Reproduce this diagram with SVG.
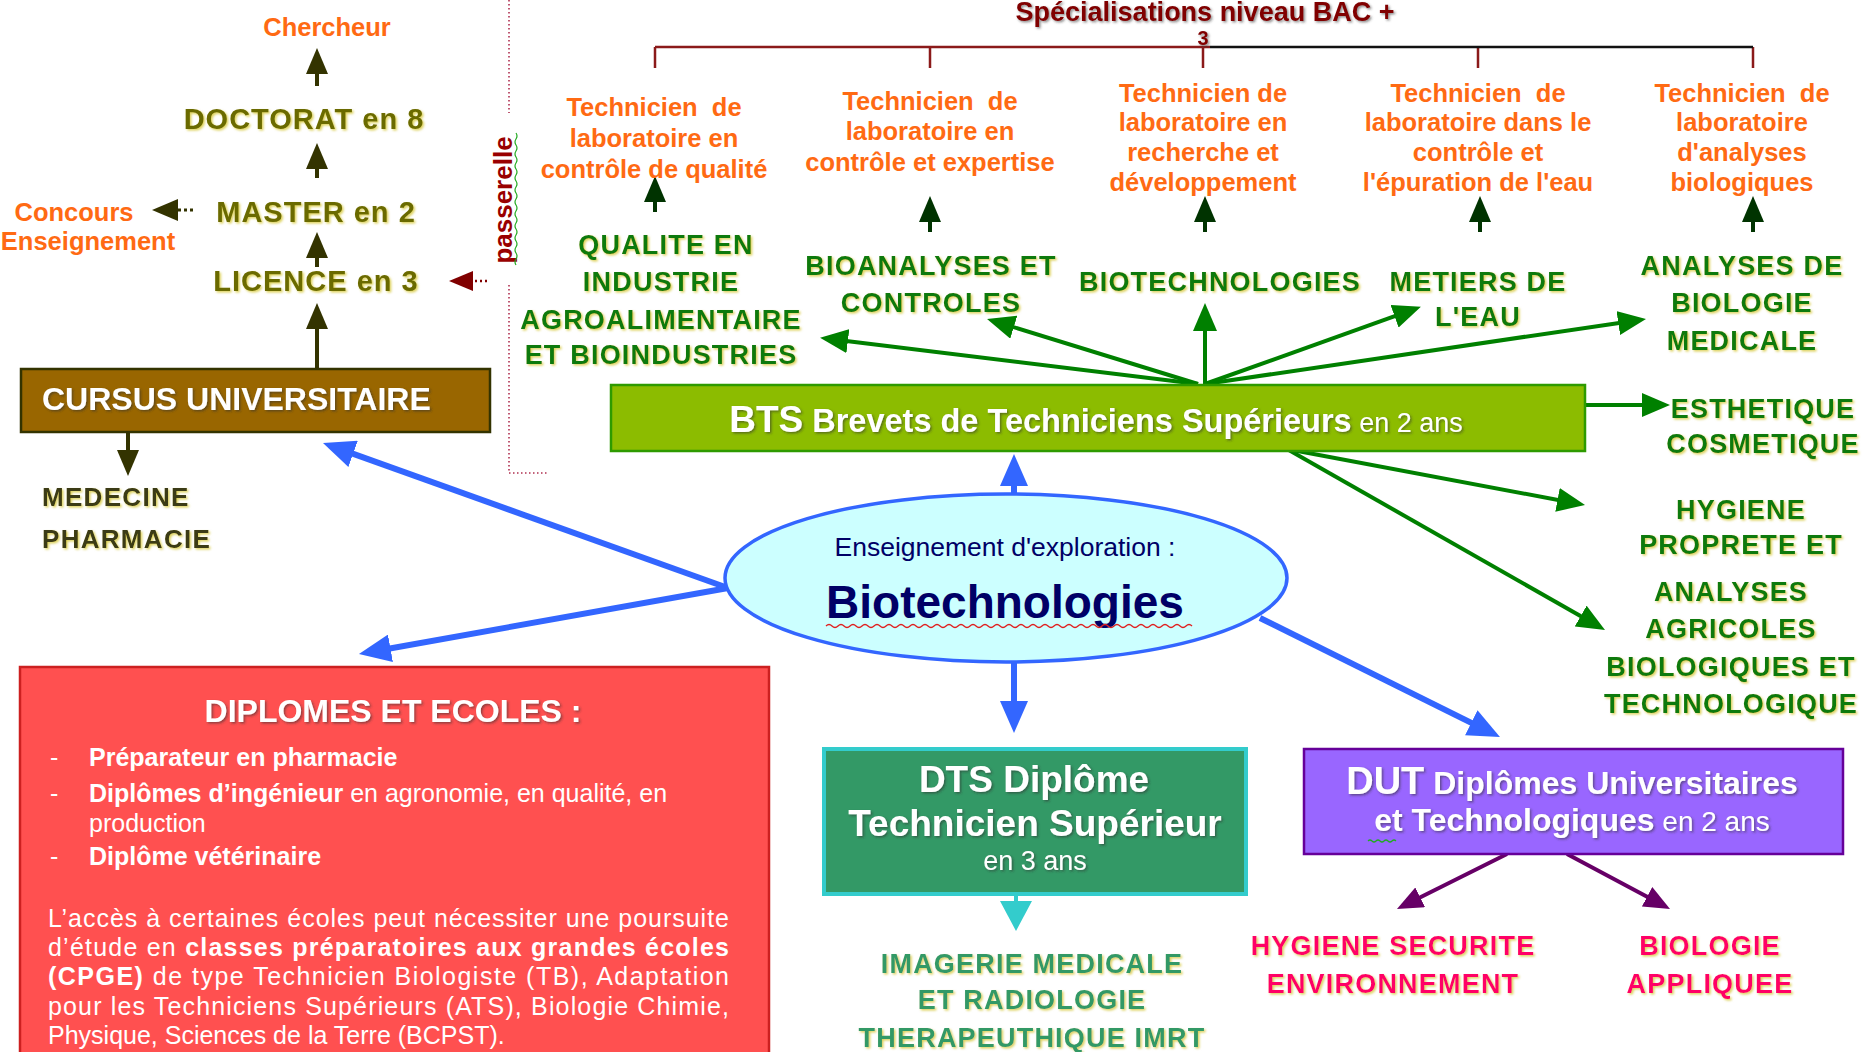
<svg xmlns="http://www.w3.org/2000/svg" width="1864" height="1052" viewBox="0 0 1864 1052">
<style>
text{font-family:"Liberation Sans",Arial,sans-serif}
.org{font-weight:bold;font-size:25.5px;fill:#FF6A13;text-anchor:middle}
.grn{font-weight:bold;font-size:27px;letter-spacing:1.2px;fill:#0A7A0A;text-anchor:middle}
.lmd{font-weight:bold;font-size:29px;letter-spacing:1px;fill:#6B6B00;text-anchor:middle}
.med{font-weight:bold;font-size:26px;letter-spacing:1.3px;fill:#3A3A12}
.img{font-weight:bold;font-size:27px;letter-spacing:1.2px;fill:#339966;text-anchor:middle}
.pnk{font-weight:bold;font-size:27px;letter-spacing:1.2px;fill:#FF0066;text-anchor:middle}
.wht{fill:#FFFFFF}
.dip{font-size:25px;fill:#FFFFFF}
.b{font-weight:bold}
.cb{fill:none;stroke-linecap:butt}
</style>
<defs>
<filter id="shY" x="-5%" y="-20%" width="110%" height="140%">
<feDropShadow dx="1.5" dy="1.5" stdDeviation="0.9" flood-color="#C9B800" flood-opacity="0.65"/>
</filter>
<filter id="shD" x="-5%" y="-20%" width="110%" height="140%">
<feDropShadow dx="1.5" dy="1.5" stdDeviation="1" flood-color="#333333" flood-opacity="0.55"/>
</filter>
<marker id="mOlive" viewBox="0 0 26 22" refX="16" refY="11" markerWidth="26" markerHeight="22" markerUnits="userSpaceOnUse" orient="auto"><path d="M0,0 L26,11 L0,22 z" fill="#333300"/></marker>
<marker id="mDk" viewBox="0 0 26 22" refX="16" refY="11" markerWidth="26" markerHeight="22" markerUnits="userSpaceOnUse" orient="auto"><path d="M0,0 L26,11 L0,22 z" fill="#003300"/></marker>
<marker id="mGreen" viewBox="0 0 28 24" refX="18" refY="12" markerWidth="28" markerHeight="24" markerUnits="userSpaceOnUse" orient="auto"><path d="M0,0 L28,12 L0,24 z" fill="#008000"/></marker>
<marker id="mBlue" viewBox="0 0 32 28" refX="22" refY="14" markerWidth="32" markerHeight="28" markerUnits="userSpaceOnUse" orient="auto"><path d="M0,0 L32,14 L0,28 z" fill="#3366FF"/></marker>
<marker id="mCyan" viewBox="0 0 30 32" refX="20" refY="16" markerWidth="30" markerHeight="32" markerUnits="userSpaceOnUse" orient="auto"><path d="M0,0 L30,16 L0,32 z" fill="#33CCCC"/></marker>
<marker id="mPurple" viewBox="0 0 26 22" refX="16" refY="11" markerWidth="26" markerHeight="22" markerUnits="userSpaceOnUse" orient="auto"><path d="M0,0 L26,11 L0,22 z" fill="#660066"/></marker>
<marker id="mRed" viewBox="0 0 24 20" refX="14" refY="10" markerWidth="24" markerHeight="20" markerUnits="userSpaceOnUse" orient="auto"><path d="M0,0 L24,10 L0,20 z" fill="#800000"/></marker>
</defs>

<rect width="1864" height="1052" fill="#FFFFFF"/>

<!-- connectors -->
<g id="connectors" class="cb">
  <!-- specialisation bracket -->
  <path d="M655,47 H1210 M655,47 V68 M930,47 V68 M1203,47 V68 M1478,47 V68 M1753,47 V68" stroke="#8B1A1A" stroke-width="2.5"/>
  <path d="M1210,47 H1753" stroke="#111111" stroke-width="2.5"/>
  <!-- passerelle dotted frame -->
  <path d="M509,0 V113 M509,285 V473 H547" stroke="#B03050" stroke-width="1.6" stroke-dasharray="1.5,2.5"/>
  <!-- LMD arrows -->
  <g stroke="#333300" stroke-width="4" marker-end="url(#mOlive)">
    <path d="M317,86 V58"/>
    <path d="M317,178 V153"/>
    <path d="M317,267 V242"/>
    <path d="M317,369 V313"/>
    <path d="M128,432 V466"/>
  </g>
  <path d="M193,210 H162" stroke="#333300" stroke-width="3" stroke-dasharray="3,3" marker-end="url(#mOlive)"/>
  <path d="M487,281 H459" stroke="#800000" stroke-width="2.5" stroke-dasharray="2,3" marker-end="url(#mRed)"/>
  <!-- spec arrows -->
  <g stroke="#003300" stroke-width="4" marker-end="url(#mDk)">
    <path d="M655,212 V186"/>
    <path d="M930,232 V206"/>
    <path d="M1205,232 V206"/>
    <path d="M1480,232 V206"/>
    <path d="M1753,232 V206"/>
  </g>
  <!-- BTS arrows -->
  <g stroke="#008000" stroke-width="4" marker-end="url(#mGreen)">
    <path d="M1198,384 L830,339"/>
    <path d="M1198,384 L996.6,321.9"/>
    <path d="M1205,384 L1205,313"/>
    <path d="M1205,384 L1411.5,310.2"/>
    <path d="M1205,384 L1636.1,320.4"/>
    <path d="M1585,405 L1660,405"/>
    <path d="M1287,449 L1575.2,503.2"/>
    <path d="M1287,449 L1596.3,625"/>
  </g>
  <!-- blue arrows from ellipse -->
  <g stroke="#3366FF" stroke-width="6" marker-end="url(#mBlue)">
    <path d="M1014,495 V464"/>
    <path d="M1014,661 V723"/>
    <path d="M728,588 L332.4,446.4"/>
    <path d="M728,588 L368.8,652.2"/>
    <path d="M1260,618 L1491,732.6"/>
  </g>
  <!-- DTS arrow -->
  <path d="M1016,894 V921" stroke="#33CCCC" stroke-width="4" marker-end="url(#mCyan)"/>
  <!-- DUT arrows -->
  <g stroke="#660066" stroke-width="4" marker-end="url(#mPurple)">
    <path d="M1507,854 L1405.9,904.5"/>
    <path d="M1567,854 L1661.2,904.3"/>
  </g>
</g>

<!-- title -->
<g id="title" filter="url(#shD)">
  <text x="1205" y="21" text-anchor="middle" font-size="27" font-weight="bold" fill="#800000">Spécialisations niveau BAC +</text>
  <text x="1203" y="45" text-anchor="middle" font-size="20" font-weight="bold" fill="#800000">3</text>
</g>

<!-- LMD column -->
<g id="chercheur"><text class="org" x="327" y="36">Chercheur</text></g>
<g id="doctorat" filter="url(#shY)"><text class="lmd" x="304" y="129">DOCTORAT en 8</text></g>
<g id="master" filter="url(#shY)"><text class="lmd" x="316" y="222">MASTER en 2</text></g>
<g id="licence" filter="url(#shY)"><text class="lmd" x="316" y="291">LICENCE en 3</text></g>
<g id="concours">
  <text class="org" x="74" y="221">Concours</text>
  <text class="org" x="88" y="250">Enseignement</text>
</g>
<g id="passerelle">
  <text transform="translate(512,200) rotate(-90)" text-anchor="middle" font-size="26" font-weight="bold" fill="#990000">passerelle</text>
  <path d="M516,133 q2,3 0,6 q-2,3 0,6 q2,3 0,6 q-2,3 0,6 q2,3 0,6 q-2,3 0,6 q2,3 0,6 q-2,3 0,6 q2,3 0,6 q-2,3 0,6 q2,3 0,6 q-2,3 0,6 q2,3 0,6 q-2,3 0,6 q2,3 0,6 q-2,3 0,6 q2,3 0,6 q-2,3 0,6 q2,3 0,6 q-2,3 0,6 q2,3 0,6 q-2,3 0,6" fill="none" stroke="#22AA22" stroke-width="1.2"/>
</g>

<!-- CURSUS -->
<g id="cursus">
  <rect x="21" y="369" width="469" height="63" fill="#996600" stroke="#333300" stroke-width="2.5"/>
  <text x="42" y="410" font-size="32" font-weight="bold" class="wht" filter="url(#shD)">CURSUS UNIVERSITAIRE</text>
</g>
<g id="medecine" filter="url(#shY)">
  <text class="med" x="42" y="506">MEDECINE</text>
  <text class="med" x="42" y="548">PHARMACIE</text>
</g>

<!-- specialisation job titles -->
<g id="spec1">
  <text class="org" x="654" y="116">Technicien&#160; de</text>
  <text class="org" x="654" y="147">laboratoire en</text>
  <text class="org" x="654" y="178">contrôle de qualité</text>
</g>
<g id="spec2">
  <text class="org" x="930" y="110">Technicien&#160; de</text>
  <text class="org" x="930" y="140">laboratoire en</text>
  <text class="org" x="930" y="171">contrôle et expertise</text>
</g>
<g id="spec3">
  <text class="org" x="1203" y="102">Technicien de</text>
  <text class="org" x="1203" y="131">laboratoire en</text>
  <text class="org" x="1203" y="161">recherche et</text>
  <text class="org" x="1203" y="191">développement</text>
</g>
<g id="spec4">
  <text class="org" x="1478" y="102">Technicien&#160; de</text>
  <text class="org" x="1478" y="131">laboratoire dans le</text>
  <text class="org" x="1478" y="161">contrôle et</text>
  <text class="org" x="1478" y="191">l'épuration de l'eau</text>
</g>
<g id="spec5">
  <text class="org" x="1742" y="102">Technicien&#160; de</text>
  <text class="org" x="1742" y="131">laboratoire</text>
  <text class="org" x="1742" y="161">d'analyses</text>
  <text class="org" x="1742" y="191">biologiques</text>
</g>

<!-- BTS options -->
<g id="qualite" filter="url(#shY)">
  <text class="grn" x="666" y="254">QUALITE EN</text>
  <text class="grn" x="661" y="291">INDUSTRIE</text>
  <text class="grn" x="661" y="329">AGROALIMENTAIRE</text>
  <text class="grn" x="661" y="364">ET BIOINDUSTRIES</text>
</g>
<g id="bioanalyses" filter="url(#shY)">
  <text class="grn" x="931" y="275">BIOANALYSES ET</text>
  <text class="grn" x="931" y="312">CONTROLES</text>
</g>
<g id="biotechnologies" filter="url(#shY)">
  <text class="grn" x="1220" y="291">BIOTECHNOLOGIES</text>
</g>
<g id="eau" filter="url(#shY)">
  <text class="grn" x="1478" y="291">METIERS DE</text>
  <text class="grn" x="1478" y="326">L'EAU</text>
</g>
<g id="analyses-medicale" filter="url(#shY)">
  <text class="grn" x="1742" y="275">ANALYSES DE</text>
  <text class="grn" x="1742" y="312">BIOLOGIE</text>
  <text class="grn" x="1742" y="350">MEDICALE</text>
</g>
<g id="esthetique" filter="url(#shY)">
  <text class="grn" x="1763" y="418">ESTHETIQUE</text>
  <text class="grn" x="1763" y="453">COSMETIQUE</text>
</g>
<g id="hygiene" filter="url(#shY)">
  <text class="grn" x="1741" y="519">HYGIENE</text>
  <text class="grn" x="1741" y="554">PROPRETE ET</text>
</g>
<g id="agricoles" filter="url(#shY)">
  <text class="grn" x="1731" y="601">ANALYSES</text>
  <text class="grn" x="1731" y="638">AGRICOLES</text>
  <text class="grn" x="1731" y="676">BIOLOGIQUES ET</text>
  <text class="grn" x="1731" y="713">TECHNOLOGIQUE</text>
</g>

<!-- BTS box -->
<g id="bts">
  <rect x="611" y="385" width="974" height="66" fill="#8CBC00" stroke="#2E9A00" stroke-width="2.5"/>
  <text x="1096" y="432" text-anchor="middle" class="wht" filter="url(#shD)"><tspan font-size="37" font-weight="bold">BTS</tspan><tspan font-size="32.5" font-weight="bold"> Brevets de Techniciens Supérieurs</tspan><tspan font-size="27"> en 2 ans</tspan></text>
</g>

<!-- central ellipse -->
<g id="exploration">
  <ellipse cx="1006" cy="578" rx="281" ry="84" fill="#CCFFFF" stroke="#3366FF" stroke-width="3.5"/>
  <text x="1005" y="556" text-anchor="middle" font-size="26.5" fill="#000066">Enseignement d'exploration :</text>
  <text x="1005" y="618" text-anchor="middle" font-size="46" font-weight="bold" fill="#000066">Biotechnologies</text>
  <path d="M826,626 q3,-3 6,0 q3,3 6,0 q3,-3 6,0 q3,3 6,0 q3,-3 6,0 q3,3 6,0 q3,-3 6,0 q3,3 6,0 q3,-3 6,0 q3,3 6,0 q3,-3 6,0 q3,3 6,0 q3,-3 6,0 q3,3 6,0 q3,-3 6,0 q3,3 6,0 q3,-3 6,0 q3,3 6,0 q3,-3 6,0 q3,3 6,0 q3,-3 6,0 q3,3 6,0 q3,-3 6,0 q3,3 6,0 q3,-3 6,0 q3,3 6,0 q3,-3 6,0 q3,3 6,0 q3,-3 6,0 q3,3 6,0 q3,-3 6,0 q3,3 6,0 q3,-3 6,0 q3,3 6,0 q3,-3 6,0 q3,3 6,0 q3,-3 6,0 q3,3 6,0 q3,-3 6,0 q3,3 6,0 q3,-3 6,0 q3,3 6,0 q3,-3 6,0 q3,3 6,0 q3,-3 6,0 q3,3 6,0 q3,-3 6,0 q3,3 6,0 q3,-3 6,0 q3,3 6,0 q3,-3 6,0 q3,3 6,0 q3,-3 6,0 q3,3 6,0 q3,-3 6,0 q3,3 6,0 q3,-3 6,0 q3,3 6,0 q3,-3 6,0 q3,3 6,0 q3,-3 6,0" fill="none" stroke="#E02020" stroke-width="1.3"/>
</g>

<!-- DIPLOMES ET ECOLES -->
<g id="diplomes">
  <rect x="20" y="667" width="749" height="400" fill="#FF5050" stroke="#CC2020" stroke-width="2.5"/>
  <text x="393" y="722" text-anchor="middle" font-size="32" font-weight="bold" class="wht" filter="url(#shD)">DIPLOMES ET ECOLES :</text>
  <g class="dip">
    <text x="50" y="766">-</text>
    <text x="89" y="766" class="b">Préparateur en pharmacie</text>
    <text x="50" y="802">-</text>
    <text x="89" y="802"><tspan class="b">Diplômes d’ingénieur</tspan> en agronomie, en qualité, en</text>
    <text x="89" y="832">production</text>
    <text x="50" y="865">-</text>
    <text x="89" y="865" class="b">Diplôme vétérinaire</text>
    <text x="48" y="927" textLength="681" lengthAdjust="spacing">L’accès à certaines écoles peut nécessiter une poursuite</text>
    <text x="48" y="956" textLength="681" lengthAdjust="spacing">d’étude en <tspan class="b">classes préparatoires aux grandes écoles</tspan></text>
    <text x="48" y="985" textLength="681" lengthAdjust="spacing"><tspan class="b">(CPGE)</tspan> de type Technicien Biologiste (TB), Adaptation</text>
    <text x="48" y="1015" textLength="681" lengthAdjust="spacing">pour les Techniciens Supérieurs (ATS), Biologie Chimie,</text>
    <text x="48" y="1044">Physique, Sciences de la Terre (BCPST).</text>
  </g>
</g>

<!-- DTS -->
<g id="dts">
  <rect x="824" y="749" width="422" height="145" fill="#339966" stroke="#33CCCC" stroke-width="4"/>
  <g class="wht" text-anchor="middle" filter="url(#shD)">
    <text x="1034" y="792" font-size="37" font-weight="bold">DTS Diplôme</text>
    <text x="1035" y="836" font-size="37" font-weight="bold">Technicien Supérieur</text>
    <text x="1035" y="870" font-size="27">en 3 ans</text>
  </g>
</g>
<g id="imagerie" filter="url(#shY)">
  <text class="img" x="1032" y="973">IMAGERIE MEDICALE</text>
  <text class="img" x="1032" y="1009">ET RADIOLOGIE</text>
  <text class="img" x="1032" y="1047">THERAPEUTHIQUE IMRT</text>
</g>

<!-- DUT -->
<g id="dut">
  <rect x="1304" y="749" width="539" height="105" fill="#9966FF" stroke="#660099" stroke-width="2.5"/>
  <g class="wht" text-anchor="middle" filter="url(#shD)">
    <text x="1572" y="794"><tspan font-size="38" font-weight="bold">DUT</tspan><tspan font-size="32" font-weight="bold"> Diplômes Universitaires</tspan></text>
    <text x="1572" y="831"><tspan font-size="32" font-weight="bold">et Technologiques</tspan><tspan font-size="28"> en 2 ans</tspan></text>
  </g>
  <path d="M1368,841 q2,-2 4,0 q2,2 4,0 q2,-2 4,0 q2,2 4,0 q2,-2 4,0 q2,2 4,0 q2,-2 4,0" fill="none" stroke="#22AA22" stroke-width="1.2"/>
</g>
<g id="hygiene-securite" filter="url(#shY)">
  <text class="pnk" x="1393" y="955">HYGIENE SECURITE</text>
  <text class="pnk" x="1393" y="993">ENVIRONNEMENT</text>
</g>
<g id="biologie-appliquee" filter="url(#shY)">
  <text class="pnk" x="1710" y="955">BIOLOGIE</text>
  <text class="pnk" x="1710" y="993">APPLIQUEE</text>
</g>
</svg>
